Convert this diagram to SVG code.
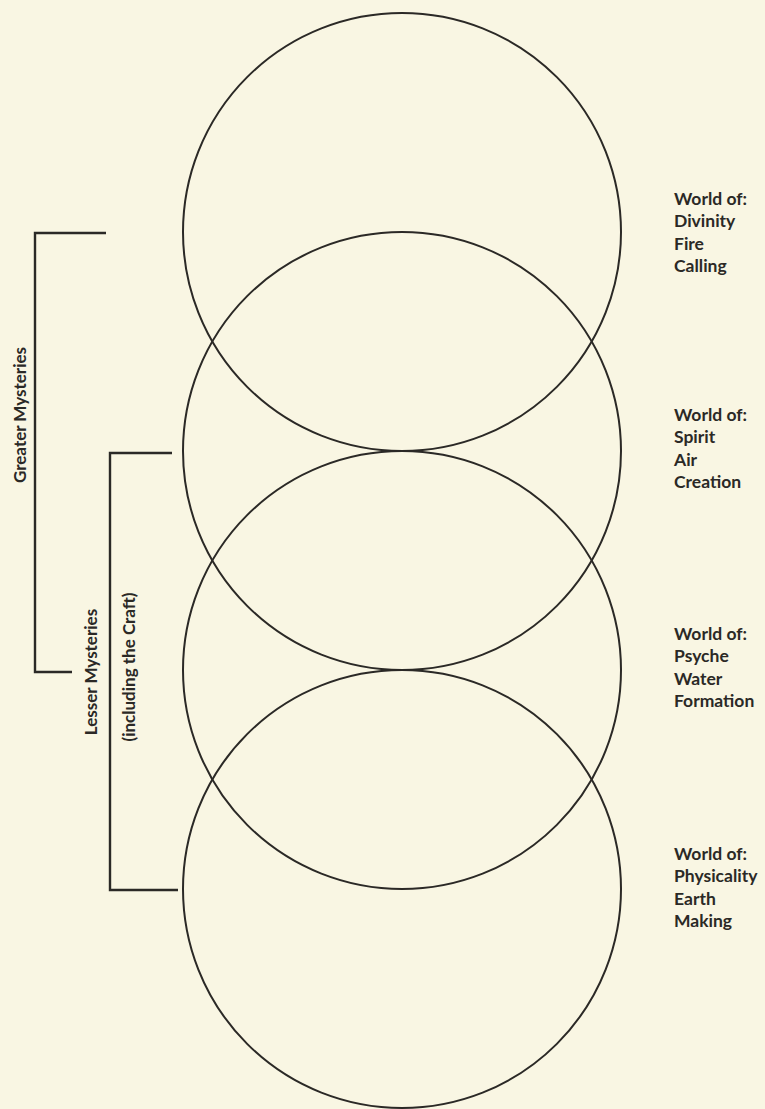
<svg xmlns="http://www.w3.org/2000/svg" width="765" height="1109" viewBox="0 0 765 1109">
<style>
.ring{fill:none;stroke:#2b2926;stroke-width:2}
.br{fill:none;stroke:#2b2926;stroke-width:2.4}
.lbl{font-family:Lato,"Open Sans","Liberation Sans",sans-serif;font-weight:bold;font-size:17.5px;fill:#2b2926}
.side{font-family:Lato,"Open Sans","Liberation Sans",sans-serif;font-weight:bold;font-size:17px;fill:#2b2926;text-anchor:middle}
</style>
<rect x="0" y="0" width="765" height="1109" fill="#f9f6e3"/>
<g id="circle-divinity"><circle class="ring" cx="402" cy="232" r="219"/></g>
<g id="circle-spirit"><circle class="ring" cx="402" cy="451" r="219"/></g>
<g id="circle-psyche"><circle class="ring" cx="402" cy="670" r="219"/></g>
<g id="circle-physicality"><circle class="ring" cx="402" cy="889" r="219"/></g>
<g id="connectors">
<polyline class="br" points="106,233 35,233 35,672 72,672"/>
<polyline class="br" points="172,453 110,453 110,890 178,890"/>
</g>
<g id="greater">
<text class="side" transform="translate(26,415) rotate(-90)">Greater Mysteries</text>
</g>
<g id="lesser">
<text class="side" transform="translate(97,672) rotate(-90)">Lesser Mysteries</text>
<text class="side" transform="translate(135,667) rotate(-90)">(including the Craft)</text>
</g>
<g id="label-divinity" class="lbl">
<text x="674" y="204.5">World of:</text><text x="674" y="227">Divinity</text><text x="674" y="249.5">Fire</text><text x="674" y="272">Calling</text>
</g>
<g id="label-spirit" class="lbl">
<text x="674" y="420.5">World of:</text><text x="674" y="443">Spirit</text><text x="674" y="465.5">Air</text><text x="674" y="488">Creation</text>
</g>
<g id="label-psyche" class="lbl">
<text x="674" y="639.5">World of:</text><text x="674" y="662">Psyche</text><text x="674" y="684.5">Water</text><text x="674" y="707">Formation</text>
</g>
<g id="label-physicality" class="lbl">
<text x="674" y="859.5">World of:</text><text x="674" y="882">Physicality</text><text x="674" y="904.5">Earth</text><text x="674" y="927">Making</text>
</g>
</svg>
